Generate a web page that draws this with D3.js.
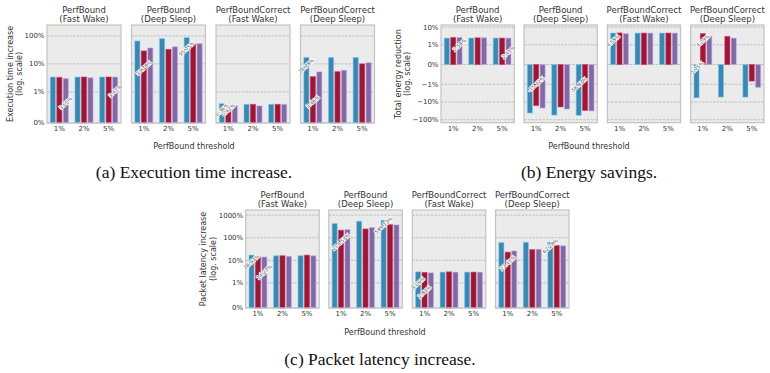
<!DOCTYPE html>
<html>
<head>
<meta charset="utf-8">
<script src="https://cdn.jsdelivr.net/npm/d3@7"></script>
<style>
  body { margin: 0; background: #fff; }
  svg { display: block; }
  .sans { font-family: "DejaVu Sans", sans-serif; fill: #333; }
  .caption { font-family: "Liberation Serif", serif; fill: #111; }
</style>
</head>
<body>
<div id="chart"></div>
<script>
// ---- data ----
const thresholds = ["1%", "2%", "5%"];
const titleTop = ["PerfBound", "PerfBound", "PerfBoundCorrect", "PerfBoundCorrect"];
const titleBottom = ["(Fast Wake)", "(Deep Sleep)", "(Fast Wake)", "(Deep Sleep)"];
const seriesColors = ["#3e86b0", "#961a37", "#7f6ba1"];

// values in %, [subplot][threshold][series]
const execTimeIncrease = [
  [[3.4, 3.3, 3.0], [3.4, 3.4, 3.2], [3.4, 3.4, 3.4]],
  [[66, 29, 37], [80, 33, 41], [87, 52, 53]],
  [[0.62, 0.5, 0.56], [0.6, 0.6, 0.55], [0.6, 0.6, 0.6]],
  [[17, 3.5, 5.2], [17, 5.3, 5.9], [17, 10, 11]]
];
const energyReduction = [
  [[2.4, 2.6, 2.6], [2.4, 2.5, 2.5], [2.4, 2.4, 2.4]],
  [[-42, -16, -22], [-55, -19, -25], [-57, -30, -32]],
  [[4.6, 4.7, 4.3], [4.6, 4.6, 4.6], [4.6, 4.6, 4.6]],
  [[-5.8, 4.3, 3.0], [-5.3, 3.0, 2.4], [-5.3, -0.84, -1.5]]
];
const latencyIncrease = [
  [[17, 14, 14], [16, 16, 15], [16, 17, 16]],
  [[425, 215, 230], [540, 245, 285], [590, 380, 370]],
  [[3.1, 2.9, 2.8], [3.0, 3.1, 3.0], [3.0, 3.0, 3.0]],
  [[61, 23, 26], [63, 30, 31], [62, 45, 44]]
];

// small rotated value notes: [subplot, threshold, series, text, value where the note sits]
const execNotes = [
  [0, 0, 2, "3.05%", 0.64], [0, 2, 2, "3.41%", 1.07],
  [1, 0, 1, "33.78%", 7.1], [1, 2, 0, "95.75%", 35],
  [2, 0, 0, "0.36%", 0.42], [2, 0, 1, "0.42%", 0.42],
  [3, 0, 0, "16.78%", 8.5], [3, 0, 1, "3.46%", 0.68]
];
const energyNotes = [
  [0, 0, 2, "2.58%", 1.0], [0, 2, 2, "2.41%", 0.63],
  [1, 0, 1, "-15.72%", -1.0], [1, 2, 0, "-56.87%", -1.1],
  [2, 0, 0, "4.58%", 1.7],
  [3, 0, 1, "4.29%", 1.7], [3, 0, 0, "-5.75%", -0.19]
];
const latencyNotes = [
  [0, 0, 0, "16.97%", 8.5], [0, 0, 2, "14.27%", 3.0],
  [1, 0, 1, "214.57%", 66], [1, 2, 0, "589.13%", 360],
  [2, 0, 0, "3.09%", 0.99], [2, 0, 1, "2.87%", 0.64],
  [3, 0, 1, "23.41%", 7.6], [3, 2, 0, "62.28%", 43]
];

const execTicks = [0, 1, 10, 100];
const execTickLabels = ["0%", "1%", "10%", "100%"];
const energyTicks = [10, 1, 0, -1, -10, -100];
const energyTickLabels = ["10%", "1%", "0%", "\u22121%", "\u221210%", "\u2212100%"];
const latencyTicks = [0, 1, 10, 100, 1000];
const latencyTickLabels = ["0%", "1%", "10%", "100%", "1000%"];

// matplotlib-style symlog (linthresh 1, linscale 1)
function symlog(v) {
  const a = Math.abs(v);
  const t = a <= 1 ? a / 0.9 : 1 / 0.9 + Math.log10(a);
  return v < 0 ? -t : t;
}

const svg = d3.select("#chart").append("svg")
  .attr("width", 770).attr("height", 373);

function drawPanel(cfg) {
  const g = svg.append("g");
  cfg.x0.forEach((x0, k) => {
    const sub = g.append("g").attr("transform", `translate(${x0},0)`);
    const yLin = d3.scaleLinear().domain(cfg.tDomain).range([cfg.bottom, cfg.top]);
    const y = (v) => yLin(symlog(v));
    const xGroup = d3.scaleBand().domain(thresholds).range([0, cfg.width]).padding(0);
    const xBar = d3.scaleBand().domain([0, 1, 2])
      .range([3.3, xGroup.bandwidth() - 3.3]).paddingInner(0.2);

    sub.append("rect")
      .attr("x", 0).attr("y", cfg.top)
      .attr("width", cfg.width).attr("height", cfg.bottom - cfg.top)
      .attr("fill", "#ebebeb");

    sub.selectAll(".grid")
      .data(cfg.ticks)
      .join("line")
      .attr("x1", 0).attr("x2", cfg.width)
      .attr("y1", (d) => y(d)).attr("y2", (d) => y(d))
      .attr("stroke", "#aaaaaa")
      .attr("stroke-width", 0.7)
      .attr("stroke-dasharray", "2.5,1.2");

    const groups = sub.selectAll(".grp")
      .data(cfg.values[k])
      .join("g")
      .attr("transform", (d, i) => `translate(${xGroup(thresholds[i])},0)`);

    groups.selectAll("rect")
      .data((d) => d)
      .join("rect")
      .attr("x", (d, i) => xBar(i))
      .attr("width", xBar.bandwidth())
      .attr("y", (d) => Math.min(y(0), y(d)))
      .attr("height", (d) => Math.abs(y(d) - y(0)))
      .attr("fill", (d, i) => seriesColors[i])
      .attr("stroke", (d, i) => d3.color(seriesColors[i]).brighter(1.3))
      .attr("stroke-opacity", 0.55)
      .attr("stroke-width", 1);

    // value notes
    cfg.notes.filter((n) => n[0] === k).forEach((n) => {
      const nx = xGroup(thresholds[n[1]]) + xBar(n[2]) + xBar.bandwidth() / 2;
      const ny = y(n[4]);
      sub.append("text")
        .attr("transform", `translate(${nx},${ny}) rotate(-42)`)
        .attr("text-anchor", "middle")
        .attr("dy", "0.35em")
        .attr("font-family", "DejaVu Sans, sans-serif")
        .attr("font-size", 5)
        .attr("fill", "#555")
        .attr("stroke", "#fff")
        .attr("stroke-width", 1.6)
        .attr("paint-order", "stroke")
        .text(n[3]);
    });

    sub.append("rect")
      .attr("x", 0).attr("y", cfg.top)
      .attr("width", cfg.width).attr("height", cfg.bottom - cfg.top)
      .attr("fill", "none")
      .attr("stroke", "#c3c3c3")
      .attr("stroke-width", 1.2);

    // x tick labels
    sub.selectAll(".xt")
      .data(thresholds)
      .join("text")
      .attr("class", "sans")
      .attr("x", (d) => xGroup(d) + xGroup.bandwidth() / 2)
      .attr("y", cfg.bottom + 8)
      .attr("text-anchor", "middle")
      .attr("font-size", 7)
      .text((d) => d);

    // titles
    sub.append("text").attr("class", "sans")
      .attr("x", cfg.width / 2).attr("y", cfg.top - 12.5)
      .attr("text-anchor", "middle").attr("font-size", 8.5)
      .text(titleTop[k]);
    sub.append("text").attr("class", "sans")
      .attr("x", cfg.width / 2).attr("y", cfg.top - 3)
      .attr("text-anchor", "middle").attr("font-size", 8.5)
      .text(titleBottom[k]);

    // y tick labels on first subplot only
    if (k === 0) {
      sub.selectAll(".yt")
        .data(cfg.ticks)
        .join("text")
        .attr("class", "sans")
        .attr("x", -2.5)
        .attr("y", (d) => y(d))
        .attr("dy", "0.35em")
        .attr("text-anchor", "end")
        .attr("font-size", 7)
        .text((d, i) => cfg.tickLabels[i]);
    }
  });

  // y label
  cfg.yLabel.forEach((line, i) => {
    g.append("text").attr("class", "sans")
      .attr("transform", `translate(${cfg.yLabelX + i * 9.5},${cfg.yLabelY}) rotate(-90)`)
      .attr("text-anchor", "middle")
      .attr("dy", "0.35em")
      .attr("font-size", 8)
      .text(line);
  });

  g.append("text").attr("class", "sans")
    .attr("x", cfg.xLabelX).attr("y", cfg.xLabelY)
    .attr("text-anchor", "middle").attr("font-size", 8)
    .text("PerfBound threshold");

  g.append("text").attr("class", "caption")
    .attr("x", cfg.captionX).attr("y", cfg.captionY)
    .attr("text-anchor", "middle").attr("font-size", 17.5)
    .text(cfg.caption);
}

drawPanel({
  x0: [47, 131.5, 216, 300.5], width: 74, top: 25, bottom: 123,
  tDomain: [0, 3.5],
  values: execTimeIncrease, notes: execNotes,
  ticks: execTicks, tickLabels: execTickLabels,
  yLabel: ["Execution time increase", "(log. scale)"], yLabelX: 10, yLabelY: 74,
  xLabelX: 194, xLabelY: 149,
  caption: "(a) Execution time increase.", captionX: 194, captionY: 177.5
});

drawPanel({
  x0: [441, 524, 607.3, 690.7], width: 73.3, top: 25, bottom: 122.7,
  tDomain: [-3.28, 2.23],
  values: energyReduction, notes: energyNotes,
  ticks: energyTicks, tickLabels: energyTickLabels,
  yLabel: ["Total energy reduction", "(log. scale)"], yLabelX: 398, yLabelY: 74,
  xLabelX: 589, xLabelY: 149,
  caption: "(b) Energy savings.", captionX: 589, captionY: 177.5
});

drawPanel({
  x0: [245.7, 328.8, 412.3, 495.5], width: 73.5, top: 210, bottom: 308,
  tDomain: [0, 4.34],
  values: latencyIncrease, notes: latencyNotes,
  ticks: latencyTicks, tickLabels: latencyTickLabels,
  yLabel: ["Packet latency increase", "(log. scale)"], yLabelX: 203.5, yLabelY: 259,
  xLabelX: 385, xLabelY: 335,
  caption: "(c) Packet latency increase.", captionX: 380, captionY: 364.5
});
</script>
</body>
</html>
